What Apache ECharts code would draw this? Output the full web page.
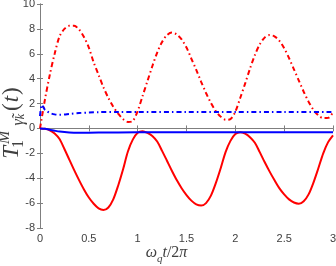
<!DOCTYPE html>
<html>
<head>
<meta charset="utf-8">
<script src="https://cdn.jsdelivr.net/npm/echarts@6/dist/echarts.min.js"></script>
<style>html,body{margin:0;padding:0;background:#fff}#c{width:336px;height:266px}</style>
</head>
<body>
<div id="c"></div>
<script>
// time grid (omega_q t / 2 pi) for the red curves
var tRed = [0,0.05,0.1,0.15,0.2,0.25,0.3,0.35,0.4,0.45,0.5,0.55,0.6,0.65,0.7,0.75,0.8,0.85,0.9,0.95,
  1,1.05,1.1,1.15,1.2,1.25,1.3,1.35,1.4,1.45,1.5,1.55,1.6,1.65,1.7,1.75,1.8,1.85,1.9,1.95,
  2,2.05,2.1,2.15,2.2,2.25,2.3,2.35,2.4,2.45,2.5,2.55,2.6,2.65,2.7,2.75,2.8,2.85,2.9,2.95,3];
var redDashDot = [0,2.3,4.3,6.0,7.4,8.0,8.25,8.25,7.95,7.35,6.5,5.3,4.3,3.3,2.45,1.75,1.2,0.75,0.52,0.6,
  1.4,2.6,3.8,5.0,6.1,6.95,7.5,7.7,7.55,7.15,6.5,5.6,4.7,3.75,2.85,2.05,1.4,0.95,0.7,0.75,
  1.35,2.45,3.6,4.8,5.9,6.75,7.3,7.5,7.4,7.05,6.45,5.65,4.75,3.85,2.95,2.15,1.5,1.05,0.83,0.85,1.3];
var redSolid = [0,-0.03,-0.15,-0.4,-0.85,-1.65,-2.5,-3.35,-4.15,-4.9,-5.55,-6.05,-6.42,-6.55,-6.35,-5.7,-4.6,-3.3,-1.85,-0.9,
  -0.35,-0.22,-0.35,-0.6,-1.05,-1.8,-2.6,-3.4,-4.15,-4.8,-5.35,-5.8,-6.1,-6.2,-6.0,-5.4,-4.4,-3.2,-1.9,-1.0,
  -0.45,-0.3,-0.42,-0.7,-1.15,-1.9,-2.7,-3.45,-4.15,-4.8,-5.3,-5.7,-5.95,-6.05,-5.85,-5.3,-4.35,-3.2,-2.0,-1.1,-0.55];
// blue curves
var tBlueDash = [0,0.02,0.05,0.1,0.15,0.2,0.25,0.3,0.4,0.5,0.6,0.8,1.0,1.5,2.0,2.5,3.0];
var blueDashDot = [1.0,1.9,1.5,1.25,1.13,1.1,1.12,1.17,1.24,1.28,1.31,1.33,1.33,1.33,1.33,1.33,1.33];
var tBlueSolid = [0,0.05,0.1,0.15,0.2,0.3,0.4,0.6,1.0,2.0,3.0];
var blueSolid = [0,-0.03,-0.1,-0.18,-0.25,-0.32,-0.34,-0.33,-0.31,-0.31,-0.31];
// axis ticks
var xTicks = {min:0, max:3, interval:0.5};
var yTicks = {min:-8, max:10, interval:2};

function pairs(t, v){ return t.map(function(x,i){ return [x, v[i]]; }); }

var axisCol = '#7f7f7f', labCol = '#404040';
var chart = echarts.init(document.getElementById('c'), null, {renderer:'canvas'});
var dashDot = [5,3,1.5,3];
var serif = '"Liberation Serif","DejaVu Serif",serif';
chart.setOption({
  animation:false,
  grid:{left:40, right:3, top:4, bottom:38, containLabel:false, outerBoundsMode:'none'},
  xAxis:[{
    type:'value', min:xTicks.min, max:xTicks.max, interval:xTicks.interval,
    axisLine:{lineStyle:{color:axisCol,width:1}},
    axisTick:{inside:true,length:3,lineStyle:{color:axisCol}},
    splitLine:{show:false},
    axisLabel:{color:labCol,fontSize:11,fontFamily:'"Liberation Sans",Arial,sans-serif',margin:5},
    name:'{i|ω}{sub|q}{i|t}{n|/2}{i|π}', nameLocation:'middle', nameGap:17, nameMoveOverlap:false,
    nameTextStyle:{padding:[0,40,0,0],rich:{
      i:{fontFamily:serif,fontStyle:'italic',fontSize:16,color:labCol,lineHeight:20,verticalAlign:'top'},
      n:{fontFamily:serif,fontSize:16,color:labCol,lineHeight:20,verticalAlign:'top'},
      sub:{fontFamily:serif,fontStyle:'italic',fontSize:11,color:labCol,lineHeight:20,verticalAlign:'bottom'}
    }}
  },{
    type:'value', position:'top', min:xTicks.min, max:xTicks.max, interval:xTicks.interval,
    axisLine:{show:true,lineStyle:{color:axisCol,width:1}},
    axisTick:{inside:true,length:3,lineStyle:{color:axisCol}},
    axisLabel:{show:false}, splitLine:{show:false}
  }],
  yAxis:[{
    type:'value', min:yTicks.min, max:yTicks.max, interval:yTicks.interval,
    axisLine:{show:true,lineStyle:{color:axisCol,width:1}},
    axisTick:{show:true,inside:true,length:3,lineStyle:{color:axisCol}},
    splitLine:{show:false},
    axisLabel:{color:labCol,fontSize:11,fontFamily:'"Liberation Sans",Arial,sans-serif',margin:5},
    name:'{i|T}{sub|1}{sup|M}{subi|γ̃}{subsub|k}{n|(}{t|t}{n|)}', nameLocation:'middle', nameRotate:90, nameGap:13, nameMoveOverlap:false,
    nameTextStyle:{padding:[0,16,0,0],rich:{
      i:{fontFamily:serif,fontStyle:'italic',fontSize:23,color:labCol,lineHeight:30,verticalAlign:'middle',padding:[0,2,0,2]},
      t:{fontFamily:serif,fontStyle:'italic',fontSize:23,color:labCol,lineHeight:30,verticalAlign:'middle',padding:[0,1,0,1]},
      n:{fontFamily:serif,fontSize:23,color:labCol,lineHeight:30,verticalAlign:'middle'},
      sup:{fontFamily:serif,fontStyle:'italic',fontSize:16,color:labCol,lineHeight:30,verticalAlign:'top',padding:[0,2,0,0]},
      sub:{fontFamily:serif,fontSize:16,color:labCol,lineHeight:30,verticalAlign:'bottom',width:0},
      subi:{fontFamily:serif,fontStyle:'italic',fontSize:16,color:labCol,lineHeight:30,verticalAlign:'bottom',padding:[0,0,0,3]},
      subsub:{fontFamily:serif,fontStyle:'italic',fontSize:12,color:labCol,lineHeight:30,verticalAlign:'bottom',padding:[0,3,0,0]}
    }}
  },{
    type:'value', position:'right', min:yTicks.min, max:yTicks.max, interval:yTicks.interval,
    axisLine:{show:true,lineStyle:{color:axisCol,width:1}},
    axisTick:{show:true,inside:true,length:3,lineStyle:{color:axisCol}},
    axisLabel:{show:false}, splitLine:{show:false}
  }],
  series:[
    {type:'line', data:pairs(tRed, redDashDot), smooth:0.3, showSymbol:false, symbol:'none',
      lineStyle:{color:'#ff0000', width:2, type:dashDot}},
    {type:'line', data:pairs(tRed, redSolid), smooth:0.3, showSymbol:false, symbol:'none',
      lineStyle:{color:'#ff0000', width:2}},
    {type:'line', data:pairs(tBlueDash, blueDashDot), smooth:0.3, showSymbol:false, symbol:'none',
      lineStyle:{color:'#0000ff', width:2, type:dashDot}},
    {type:'line', data:pairs(tBlueSolid, blueSolid), smooth:0.3, showSymbol:false, symbol:'none',
      lineStyle:{color:'#0000ff', width:2}}
  ]
});
</script>
</body>
</html>
